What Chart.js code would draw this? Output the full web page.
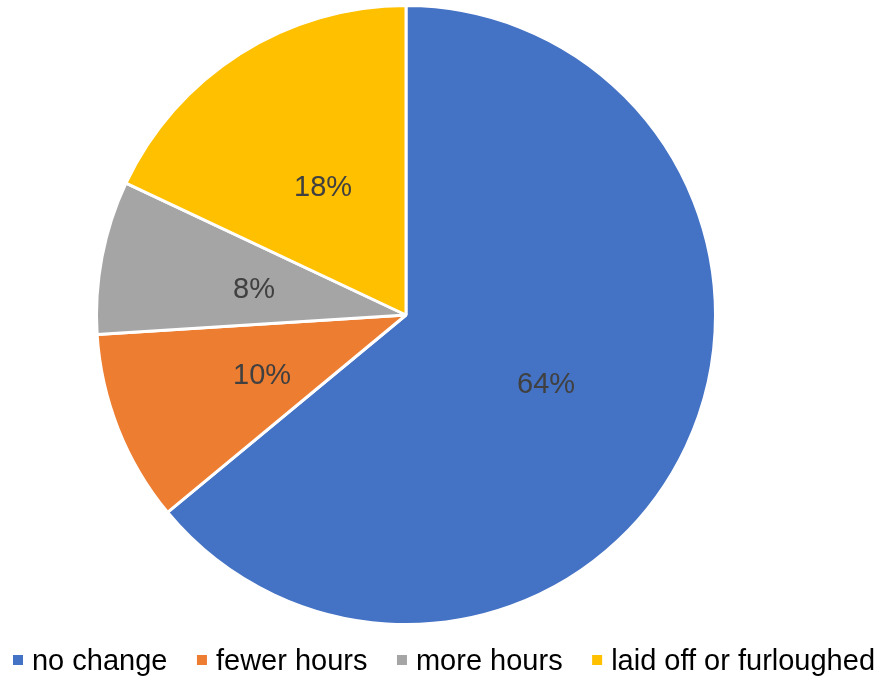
<!DOCTYPE html>
<html>
<head>
<meta charset="utf-8">
<script src="https://cdn.jsdelivr.net/npm/chart.js@4/dist/chart.umd.min.js"></script>
<style>
  html, body { margin: 0; padding: 0; background: #fff; }
  #wrap { width: 883px; height: 678px; }
</style>
</head>
<body>
<div id="wrap"><canvas id="pieChart"></canvas></div>
<script>
const categories = ['no change', 'fewer hours', 'more hours', 'laid off or furloughed'];
const shares = [64, 10, 8, 18];
const sliceColors = ['#4472C4', '#ED7D31', '#A5A5A5', '#FFC000'];

const FONT = "'Liberation Sans', Arial, sans-serif";
Chart.defaults.font.family = FONT;

// percent label in the middle of each slice
const sliceLabels = {
  id: 'sliceLabels',
  afterDatasetsDraw(chart) {
    const ctx = chart.ctx;
    const meta = chart.getDatasetMeta(0);
    ctx.save();
    ctx.font = '29px ' + FONT;
    ctx.fillStyle = '#404040';
    ctx.textAlign = 'center';
    ctx.textBaseline = 'middle';
    meta.data.forEach((arc, i) => {
      const p = arc.getCenterPoint();
      ctx.fillText(shares[i] + '%', p.x, p.y + 4);
    });
    ctx.restore();
  }
};

// one-row legend along the bottom: small square, tight gap, wide spacing
const bottomLegend = {
  id: 'bottomLegend',
  afterDraw(chart) {
    const ctx = chart.ctx;
    const ds = chart.data.datasets[0];
    const box = 10, gap = 9, spacing = 29.5;
    ctx.save();
    ctx.font = '29px ' + FONT;
    ctx.textBaseline = 'alphabetic';
    ctx.textAlign = 'left';
    const widths = chart.data.labels.map(t => ctx.measureText(t).width);
    let total = widths.reduce((s, w) => s + box + gap + w, 0) + spacing * (widths.length - 1);
    let x = 444 - total / 2;
    const baseline = 670;
    chart.data.labels.forEach((t, i) => {
      ctx.fillStyle = ds.backgroundColor[i];
      ctx.fillRect(x, 655, box, box);
      ctx.fillStyle = '#000000';
      ctx.fillText(t, x + box + gap, baseline);
      x += box + gap + widths[i] + spacing;
    });
    ctx.restore();
  }
};

const ctx = document.getElementById('pieChart');

new Chart(ctx, {
  type: 'pie',
  data: {
    labels: categories,
    datasets: [{
      data: shares,
      backgroundColor: sliceColors,
      borderColor: '#ffffff',
      borderWidth: 3
    }]
  },
  options: {
    responsive: true,
    maintainAspectRatio: false,
    animation: false,
    layout: {
      padding: { left: 95, right: 166, top: 4, bottom: 52 }
    },
    plugins: {
      legend: { display: false },
      tooltip: { enabled: false }
    }
  },
  plugins: [sliceLabels, bottomLegend]
});
</script>
</body>
</html>
